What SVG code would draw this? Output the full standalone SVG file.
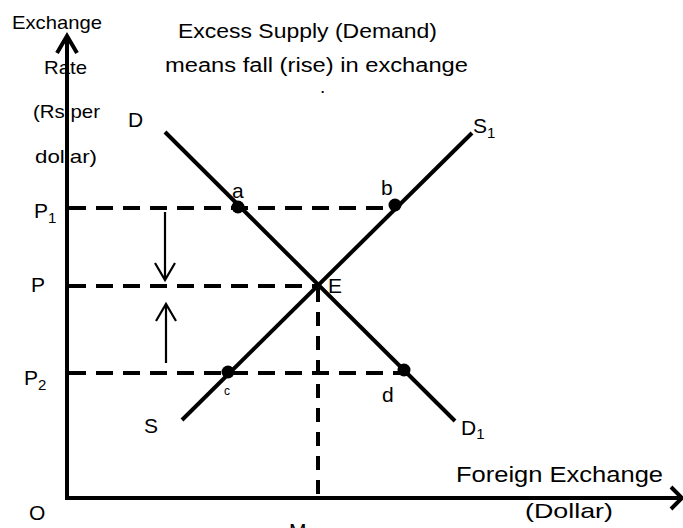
<svg xmlns="http://www.w3.org/2000/svg" width="683" height="528" viewBox="0 0 683 528">
<style>
text{font-family:"Liberation Sans",Arial,sans-serif;fill:#000}
.ax{stroke:#000;stroke-width:4;fill:none}
.cv{stroke:#000;stroke-width:4;fill:none}
.ds{stroke:#000;stroke-width:4;fill:none;stroke-dasharray:17 10}
.ar{stroke:#000;stroke-width:2.2;fill:none}
.lb{font-size:21px}
.sm{font-size:19px}
.sub{font-size:15px}
</style>
<rect width="683" height="528" fill="#fff"/>
<g id="axes">
<path class="ax" d="M67,498 V37"/>
<path class="ax" d="M57,53 L67,36 L77,53"/>
<path class="ax" d="M65,498 H682"/>
<path class="ax" d="M671,487 L682,498 L671,509"/>
</g>
<g id="connectors">
<path class="ds" d="M69,208 H395"/>
<path class="ds" d="M69,286 H318"/>
<path class="ds" d="M69,373 H404"/>
<path class="ds" d="M318,288 V498" style="stroke-dasharray:14 10"/>
<path class="ar" d="M165,212 V280 M155,263 L165,280 L175,263"/>
<path class="ar" d="M166,363 L166,304 M156,321 L166,304 L176,321"/>
</g>
<g id="demand"><path class="cv" d="M165,132 L455,421"/></g>
<g id="supply"><path class="cv" d="M182,420 L472,133"/></g>
<g id="point-a"><circle cx="238" cy="207" r="6.5"/><text class="lb" x="232" y="198">a</text></g>
<g id="point-b"><circle cx="395" cy="205" r="6.5"/><text class="lb" x="381" y="195">b</text></g>
<g id="point-c"><circle cx="228" cy="372" r="6.5"/><text x="224" y="395" style="font-size:12px">c</text></g>
<g id="point-d"><circle cx="404" cy="370" r="6.5"/><text class="lb" x="382" y="402">d</text></g>
<g id="point-E"><text class="lb" x="328" y="293">E</text></g>
<g id="labels">
<text class="lb" x="128" y="127">D</text>
<text class="lb" x="144" y="433">S</text>
<text class="lb" x="473" y="133">S<tspan class="sub" dy="5">1</tspan></text>
<text class="lb" x="461" y="435">D<tspan class="sub" dy="4">1</tspan></text>
<text class="lb" x="34" y="218">P<tspan class="sub" dy="5">1</tspan></text>
<text class="lb" x="31" y="292">P</text>
<text class="lb" x="24" y="385">P<tspan class="sub" dy="5">2</tspan></text>
<text class="lb" x="29" y="520">O</text>
<text class="lb" x="289" y="538">M</text>
<text class="sm" x="12" y="29" textLength="90" lengthAdjust="spacingAndGlyphs">Exchange</text>
<text class="sm" x="44" y="74" textLength="43" lengthAdjust="spacingAndGlyphs">Rate</text>
<text class="sm" x="33" y="118" textLength="67" lengthAdjust="spacingAndGlyphs">(Rs.per</text>
<text class="sm" x="35" y="163" textLength="62" lengthAdjust="spacingAndGlyphs">dollar)</text>
<text x="178" y="38" style="font-size:20px" textLength="259" lengthAdjust="spacingAndGlyphs">Excess Supply (Demand)</text>
<text x="165" y="72" style="font-size:20px" textLength="303" lengthAdjust="spacingAndGlyphs">means fall (rise) in exchange</text>
<text class="sm" x="320" y="93">.</text>
<text x="456" y="482" style="font-size:22px" textLength="207" lengthAdjust="spacingAndGlyphs">Foreign Exchange</text>
<text class="lb" x="525" y="518" textLength="88" lengthAdjust="spacingAndGlyphs">(Dollar)</text>
</g>
</svg>
